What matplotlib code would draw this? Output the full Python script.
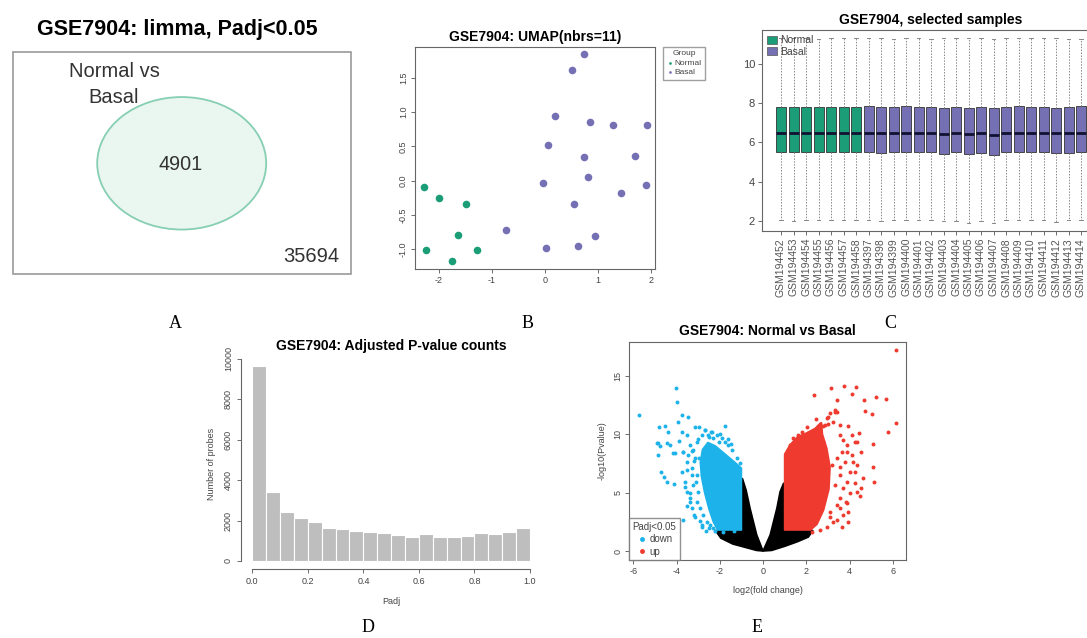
import numpy as np
import matplotlib.pyplot as plt
from matplotlib.patches import Rectangle, Ellipse, Polygon, Patch
from matplotlib.lines import Line2D

plt.rcParams['font.family'] = ['Liberation Sans', 'DejaVu Sans']

# ---------------------------------------------------------------- data
venn_title = 'GSE7904: limma, Padj<0.05'
venn_label = ['Normal vs', 'Basal']
venn_inside = 4901
venn_outside = 35694

# UMAP coordinates
normal_x = [-2.28, -2.00, -1.50, -1.64, -2.25, -1.29, -1.75]
normal_y = [-0.10, -0.25, -0.34, -0.80, -1.01, -1.02, -1.17]
basal_x = [0.73, 0.50, 0.19, 0.84, 1.28, 1.92, 0.06, 0.74, 1.69, 0.82,
           -0.04, 1.91, 1.44, 0.54, -0.74, 0.94, 0.62, 0.02]
basal_y = [1.85, 1.62, 0.94, 0.86, 0.81, 0.82, 0.52, 0.35, 0.36, 0.06,
           -0.04, -0.06, -0.18, -0.34, -0.72, -0.81, -0.95, -0.99]

# boxplot of selected samples
samples = ['GSM194452', 'GSM194453', 'GSM194454', 'GSM194455', 'GSM194456',
           'GSM194457', 'GSM194458', 'GSM194397', 'GSM194398', 'GSM194399',
           'GSM194400', 'GSM194401', 'GSM194402', 'GSM194403', 'GSM194404',
           'GSM194405', 'GSM194406', 'GSM194407', 'GSM194408', 'GSM194409',
           'GSM194410', 'GSM194411', 'GSM194412', 'GSM194413', 'GSM194414']
groups = ['Normal'] * 7 + ['Basal'] * 18
q1 = [5.50, 5.50, 5.50, 5.50, 5.50, 5.52, 5.50, 5.52, 5.45, 5.50, 5.52, 5.52, 5.52,
      5.43, 5.50, 5.40, 5.47, 5.35, 5.50, 5.52, 5.50, 5.50, 5.45, 5.48, 5.52]
med = [6.47, 6.47, 6.47, 6.47, 6.47, 6.49, 6.48, 6.50, 6.47, 6.49, 6.50, 6.50, 6.50,
       6.44, 6.48, 6.43, 6.47, 6.40, 6.50, 6.50, 6.48, 6.50, 6.46, 6.47, 6.50]
q3 = [7.82, 7.82, 7.82, 7.82, 7.80, 7.82, 7.82, 7.84, 7.82, 7.80, 7.84, 7.82, 7.80,
      7.76, 7.80, 7.78, 7.82, 7.76, 7.82, 7.84, 7.80, 7.82, 7.78, 7.80, 7.84]
whis_hi = [11.30, 11.30, 11.30, 11.28, 11.30, 11.30, 11.30, 11.30, 11.30, 11.28, 11.30,
           11.30, 11.27, 11.30, 11.30, 11.33, 11.30, 11.28, 11.30, 11.30, 11.30, 11.30,
           11.33, 11.28, 11.28]
whis_lo = [2.05, 2.02, 2.05, 2.05, 2.03, 2.07, 2.07, 2.07, 2.00, 2.05, 2.03, 2.05, 2.05,
           1.98, 2.02, 1.92, 2.00, 1.88, 2.03, 2.05, 2.03, 2.05, 1.95, 2.05, 2.07]

# adjusted p-value histogram (20 bins of 0.05)
padj_counts = [9640, 3430, 2405, 2110, 1944, 1620, 1582, 1483, 1417, 1400,
               1302, 1203, 1334, 1203, 1210, 1220, 1390, 1318, 1425, 1620]

# volcano: outlines of the solid clouds, then the sparse points around them
down_core_x = [-1.0, -1.0, -1.3, -1.75, -2.2, -2.55, -2.8, -2.9, -2.85, -2.7, -2.5, -2.3, -2.1]
down_core_y = [1.8, 7.1, 7.6, 8.3, 9.0, 9.3, 8.7, 7.6, 6.4, 5.0, 3.6, 2.5, 1.8]
up_core_x = [1.0, 1.0, 1.25, 1.6, 2.0, 2.4, 2.7, 2.75, 2.95, 3.1, 3.05, 2.8, 2.5, 2.2]
up_core_y = [1.8, 8.3, 9.1, 9.8, 10.1, 10.5, 11.0, 10.0, 8.8, 7.2, 5.3, 3.5, 2.3, 1.8]
ns_left_x = [0, -0.29, -0.60, -0.78, -0.95, -1.0, -1.0, -2.2, -1.95, -1.4, -0.8, -0.3]
ns_left_y = [0, 1.37, 3.66, 5.2, 6.2, 6.2, 1.8, 1.75, 1.1, 0.6, 0.3, 0.05]
ns_right_x = [0, 0.33, 0.64, 0.79, 0.95, 1.0, 1.0, 2.3, 2.1, 1.6, 1.0, 0.4]
ns_right_y = [0, 1.37, 3.66, 5.08, 5.8, 5.8, 1.8, 1.75, 1.2, 0.8, 0.4, 0.05]

down_x = [-5.74, -4.04, -3.96, -4.81, -4.53, -4.38, -4.87, -4.78, -4.45, -4.30, -4.07,
          -4.15, -4.72, -4.56, -4.45, -4.14, -3.76, -3.92, -3.45, -3.73, -3.53, -3.14,
          -2.95, -2.68, -2.40, -1.76, -3.53, -3.30, -3.60, -3.40, -3.50, -3.20, -2.90,
          -3.71, -2.80, -3.00, -3.30, -3.70, -3.90, -2.50, -2.00, -1.60, -1.50, -3.20,
          -3.10, -3.40, -4.84, -4.89,
          -2.68, -2.53, -2.35, -2.14, -1.91, -1.76, -1.61, -1.45, -1.22, -1.07,
          -3.07, -3.22, -3.15, -3.30, -3.07, -3.22, -2.99, -3.07, -2.92, -2.76,
          -2.61, -2.45, -2.30, -2.84, -3.38, -3.53, -3.30, -3.15, -2.84, -3.53,
          -3.76, -3.61, -3.38, -3.69, -3.46, -2.30, -2.04, -1.85, -1.35, -2.95,
          -2.62, -2.48, -2.22]
down_y = [11.65, 13.94, 12.74, 10.65, 10.74, 10.17, 9.23, 9.00, 9.23, 9.08, 8.37,
          8.40, 6.80, 6.37, 5.94, 5.74, 11.65, 11.08, 11.51, 10.22, 9.94, 10.65,
          10.60, 10.37, 10.20, 10.74, 6.94, 6.51, 5.50, 4.20, 3.90, 3.10, 2.60,
          2.66, 2.20, 9.60, 8.60, 8.50, 9.40, 9.80, 10.00, 9.60, 9.20, 7.70,
          5.90, 5.00, 8.23, 9.23,
          10.37, 9.94, 10.22, 9.94, 9.65, 9.37, 9.08, 8.65, 7.94, 7.51,
          9.37, 8.65, 7.94, 7.08, 6.51, 5.65, 5.08, 4.22, 3.65, 3.08,
          2.51, 2.22, 2.00, 2.08, 4.51, 5.08, 3.65, 2.94, 9.94, 7.65,
          6.80, 5.94, 9.08, 8.51, 8.22, 9.65, 9.31, 1.65, 1.70, 8.0,
          1.75, 1.95, 1.70]
up_x = [6.16, 2.37, 3.14, 3.75, 4.31, 4.12, 3.42, 4.65, 5.24, 5.69, 4.73, 5.04, 6.13,
        5.78, 3.35, 3.00, 2.87, 2.53, 1.69, 3.57, 3.91, 4.42, 4.26, 4.53, 5.08, 5.08,
        5.11, 4.62, 4.26, 4.53, 4.50, 3.88, 4.03, 3.85, 3.95, 3.42, 3.11, 3.57, 3.80,
        4.11, 3.88, 4.34,
        1.63, 1.79, 2.10, 2.20, 2.64, 2.79, 3.02, 2.94, 3.10, 3.33, 3.44, 3.25,
        3.56, 3.72, 3.87, 3.64, 3.41, 3.18, 3.56, 3.33, 3.72, 3.56, 3.41, 3.72,
        3.25, 2.94, 2.64, 2.25, 1.94, 2.33, 4.10, 4.33, 4.18, 4.02, 4.25, 4.33,
        3.87, 3.56, 3.10, 3.95, 3.64, 2.79, 1.25, 1.40, 1.17, 2.45, 2.05]
up_y = [17.22, 13.37, 13.94, 14.17, 14.03, 13.42, 12.94, 12.91, 13.20, 13.00, 12.00,
        11.77, 10.99, 10.17, 11.94, 11.51, 10.80, 10.74, 9.80, 10.80, 10.74, 10.14,
        9.37, 8.51, 9.14, 7.22, 5.94, 6.28, 6.80, 5.43, 4.74, 5.94, 4.94, 4.23, 3.37,
        2.66, 2.94, 7.22, 7.65, 8.23, 8.51, 7.37,
        9.94, 10.17, 10.08, 9.94, 10.85, 10.74, 10.85, 11.37, 11.80, 12.08, 11.94, 11.02,
        9.94, 9.51, 9.08, 8.51, 7.94, 7.37, 6.51, 5.65, 5.37, 4.51, 3.94, 3.08,
        2.51, 2.08, 1.80, 1.65, 9.94, 9.08, 9.94, 9.37, 7.65, 6.80, 5.80, 5.08,
        4.08, 3.65, 3.37, 2.51, 2.08, 9.37, 9.08, 9.65, 8.65, 11.3, 10.6]

GREEN = '#1B9E77'
PURPLE = '#7570B3'
CYAN = '#1DB3EA'
RED = '#EF3A30'

W, H = 1087, 638
fig = plt.figure(figsize=(W / 100, H / 100), dpi=100)


def px_axes(l, t, r, b):
    return fig.add_axes([l / W, 1 - b / H, (r - l) / W, (b - t) / H])


def r_style(ax, lab=6.5):
    for s in ax.spines.values():
        s.set_color('#666666')
        s.set_linewidth(0.8)
    ax.tick_params(labelsize=lab, length=3, width=0.6, color='#555555',
                   labelcolor='#444444', pad=2)


# ---------------------------------------------------------------- A: venn
ov = fig.add_axes([0, 0, 1, 1])
ov.set_xlim(0, W)
ov.set_ylim(H, 0)
ov.axis('off')
ov.add_patch(Rectangle((13.3, 51.7), 337.4, 222.3, fill=False, ec='#999999', lw=1.2))
ov.add_patch(Ellipse((181.7, 163.3), 169, 132.5, fc='#eaf6f0', ec='#86cfb2', lw=1.3))
ov.text(177.5, 30, venn_title, ha='center', va='center', fontsize=15.5, fontweight='bold')
ov.text(114, 71.7, venn_label[0], ha='center', va='center', fontsize=14.5, color='#333333')
ov.text(114, 97.7, venn_label[1], ha='center', va='center', fontsize=14.5, color='#333333')
ov.text(180.3, 164.3, str(venn_inside), ha='center', va='center', fontsize=14.3, color='#333333')
ov.text(311, 256.7, str(venn_outside), ha='center', va='center', fontsize=14.5, color='#333333')

# ---------------------------------------------------------------- B: UMAP
ax = px_axes(415, 47, 655, 269)
r_style(ax)
ax.scatter(normal_x, normal_y, s=30, color=GREEN, lw=0, label='Normal')
ax.scatter(basal_x, basal_y, s=30, color=PURPLE, lw=0, label='Basal')
ax.set_xlim(-2.453, 2.075)
ax.set_ylim(-1.292, 1.953)
ax.set_xticks([-2, -1, 0, 1, 2])
ax.set_xticklabels(['-2', '-1', '0', '1', '2'])
ax.set_yticks([-1.0, -0.5, 0.0, 0.5, 1.0, 1.5])
ax.set_yticklabels(['-1.0', '-0.5', '0.0', '0.5', '1.0', '1.5'], rotation=90, va='center')
ax.set_title('GSE7904: UMAP(nbrs=11)', fontsize=10, fontweight='bold', pad=4)
leg = ax.legend(title='Group', loc='upper left', bbox_to_anchor=(663 / W, 1 - 47 / H),
                bbox_transform=fig.transFigure, fontsize=6, title_fontsize=6,
                markerscale=0.35, handletextpad=0.2, borderpad=0.4, labelspacing=0.2,
                handlelength=0.8, fancybox=False, edgecolor='#888888', borderaxespad=0)
for t in leg.get_texts():
    t.set_color('#444444')
leg.get_title().set_color('#444444')

# ---------------------------------------------------------------- C: boxplot
ax = px_axes(762, 30, 1100, 231)
r_style(ax, lab=8)
stats = []
for i in range(len(samples)):
    stats.append(dict(med=med[i], q1=q1[i], q3=q3[i], whislo=whis_lo[i],
                      whishi=whis_hi[i], fliers=[]))
pos = np.arange(1, len(samples) + 1)
bp = ax.bxp(stats, positions=pos, widths=0.8, patch_artist=True, showfliers=False,
            boxprops=dict(ec='#333333', lw=0.6),
            whiskerprops=dict(color='#888888', lw=0.7, linestyle=(0, (1.5, 1.5))),
            capprops=dict(color='#888888', lw=0.7), capwidths=0.3,
            medianprops=dict(color='#111133', lw=2))
for patch, g in zip(bp['boxes'], groups):
    patch.set_facecolor(GREEN if g == 'Normal' else PURPLE)
ax.set_xlim(-0.52, 26.52)
ax.set_ylim(1.49, 11.73)
ax.set_yticks([2, 4, 6, 8, 10])
ax.set_xticks(pos)
ax.set_xticklabels(samples, rotation=90, fontsize=7.5, color='#555555')
ax.set_title('GSE7904, selected samples', fontsize=10, fontweight='bold', pad=4)
ax.legend(handles=[Patch(fc=GREEN, ec='#555555', lw=0.5, label='Normal'),
                   Patch(fc=PURPLE, ec='#555555', lw=0.5, label='Basal')],
          loc='upper left', frameon=False, fontsize=7.5, handlelength=0.9, handleheight=0.8,
          handletextpad=0.3, labelspacing=0.15, borderaxespad=0.3, borderpad=0.2,
          labelcolor='#444444')

# ---------------------------------------------------------------- D: histogram
ax = px_axes(241.2, 358.2, 541.1, 568.8)
edges = np.linspace(0, 1, len(padj_counts) + 1)
ax.bar(edges[:-1], padj_counts, width=np.diff(edges), align='edge',
       color='#BEBEBE', ec='white', lw=0.8)
ax.set_xlim(-0.04, 1.04)
ax.set_ylim(-386, 10026)
for s in ['top', 'right']:
    ax.spines[s].set_visible(False)
ax.spines['left'].set_bounds(0, 10000)
ax.spines['bottom'].set_bounds(0, 1)
for s in ['left', 'bottom']:
    ax.spines[s].set_color('#666666')
    ax.spines[s].set_linewidth(0.8)
ax.tick_params(labelsize=6.5, length=3, width=0.6, color='#555555',
               labelcolor='#444444', pad=3)
ax.set_xticks([0, 0.2, 0.4, 0.6, 0.8, 1.0])
ax.set_xticklabels(['0.0', '0.2', '0.4', '0.6', '0.8', '1.0'])
ax.set_yticks([0, 2000, 4000, 6000, 8000, 10000])
ax.set_yticklabels(['0', '2000', '4000', '6000', '8000', '10000'], rotation=90, va='center')
ax.set_xlabel('Padj', fontsize=6.5, color='#444444', labelpad=8)
ax.set_ylabel('Number of probes', fontsize=6.5, color='#444444', labelpad=6)
ax.set_title('GSE7904: Adjusted P-value counts', fontsize=10, fontweight='bold', pad=6)

# ---------------------------------------------------------------- E: volcano
ax = px_axes(629.3, 341.7, 906, 560)
r_style(ax)
for xs, ys, c in [(ns_left_x, ns_left_y, 'black'), (ns_right_x, ns_right_y, 'black'),
                  (down_core_x, down_core_y, CYAN), (up_core_x, up_core_y, RED)]:
    ax.add_patch(Polygon(np.column_stack([xs, ys]), closed=True, fc=c, ec=c, lw=1.2,
                         joinstyle='round'))
ax.scatter(down_x, down_y, s=8, color=CYAN, lw=0)
ax.scatter(up_x, up_y, s=8, color=RED, lw=0)
ax.set_xlim(-6.185, 6.613)
ax.set_ylim(-0.771, 17.94)
ax.set_xticks([-6, -4, -2, 0, 2, 4, 6])
ax.set_xticklabels(['-6', '-4', '-2', '0', '2', '4', '6'])
ax.set_yticks([0, 5, 10, 15])
ax.set_yticklabels(['0', '5', '10', '15'], rotation=90, va='center')
ax.set_xlabel('log2(fold change)', fontsize=6.5, color='#444444', labelpad=7)
ax.set_ylabel('-log10(Pvalue)', fontsize=6.5, color='#444444', labelpad=5)
ax.set_title('GSE7904: Normal vs Basal', fontsize=10, fontweight='bold', pad=5)
vleg = ax.legend(handles=[Line2D([], [], ls='', marker='o', ms=2.5, color=CYAN, label='down'),
                          Line2D([], [], ls='', marker='o', ms=2.5, color=RED, label='up')],
                 title='Padj<0.05', loc='lower left', fontsize=7, title_fontsize=7,
                 fancybox=False, edgecolor='#777777', borderaxespad=0, handlelength=1.0,
                 handletextpad=0.3, labelspacing=0.25, borderpad=0.35)
for t in vleg.get_texts():
    t.set_color('#444444')
vleg.get_title().set_color('#444444')

# ---------------------------------------------------------------- panel letters
for letter, x, y in [('A', 175, 323), ('B', 528, 324), ('C', 890, 323),
                     ('D', 368, 627), ('E', 757, 627)]:
    fig.text(x / W, 1 - y / H, letter, family=['Liberation Serif', 'DejaVu Serif'],
             fontsize=13, ha='center', va='center')

fig.savefig('out.png', dpi=100)
